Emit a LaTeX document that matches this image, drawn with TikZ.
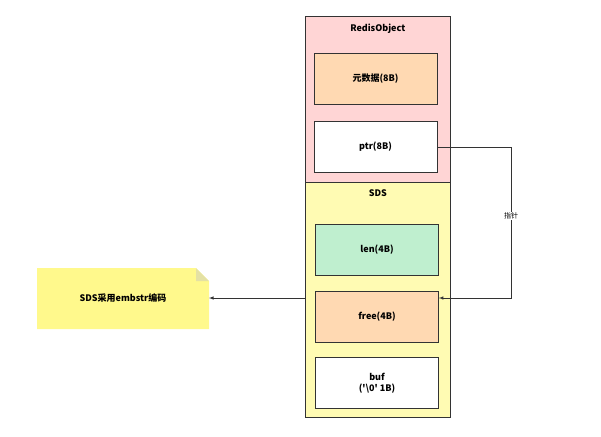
\documentclass[tikz,border=0pt]{standalone}
\usepackage{fontspec}
\setmainfont{Open Sans}
\newfontfamily\cjk{Noto Sans CJK SC}
\usetikzlibrary{arrows,positioning,shapes.misc}
\begin{document}
\begin{tikzpicture}[x=1pt,y=-1pt,>=latex, semithick, font=\cjk\bfseries\small]
  \tikzset{field/.style={draw=black!80,minimum width=123pt,minimum height=51pt,align=center},
           part/.style={draw=black!80,minimum width=145pt,anchor=north west}}
  \useasboundingbox (0,0) rectangle (601,436);

  \node[part,fill=pink!70!red!35,minimum height=166pt] (obj) at (305,16) {};
  \node[part,fill=yellow!30,minimum height=235pt] (sds) at (305,182) {};
  \node[below=4pt of obj.north] {RedisObject};
  \node[below=4pt of sds.north] {SDS};

  \node[field,fill=orange!30] (meta) at (375.5,79) {元数据(8B)};
  \node[field,fill=white]     (ptr)  at (375.5,147) {ptr(8B)};
  \node[field,fill=green!50!teal!25] (len) at (377,250) {len(4B)};
  \node[field,fill=orange!30] (free) at (377,317) {free(4B)};
  \node[field,fill=white]     (buf)  at (377,383) {buf\\('\textbackslash0' 1B)};

  % note
  \fill[yellow!45] (37,268) -- (196,268) -- (209,281) -- (209,329) -- (37,329) -- cycle;
  \fill[yellow!70!black!40] (196,268) -- (196,281) -- (209,281) -- cycle;
  \node (note) at (123,298.5) {SDS采用embstr编码};
  \coordinate (noteR) at (209,298);
  \coordinate (sdsL) at (305,298);
  \coordinate (bend1) at (511,147);
  \coordinate (bend2) at (511,298);

  \draw[->,black!80] (sdsL) -- (noteR);
  \draw[->,black!80] (ptr.east) -- (bend1) -- (bend2) -- (free.east |- bend2);
  \node[fill=white,inner sep=1pt,font=\cjk\scriptsize] at (511,216) {指针};
\end{tikzpicture}
\end{document}
